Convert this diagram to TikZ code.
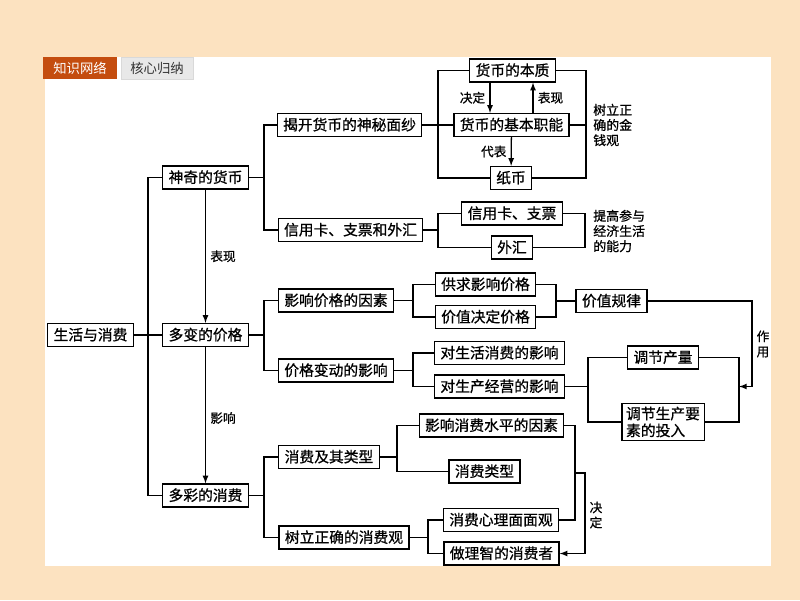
\documentclass[tikz,border=0pt]{standalone}
\usepackage{fontspec}
\newfontfamily\cjk{Noto Sans CJK SC}
\newfontfamily\cjkb{Noto Sans CJK SC}[FakeBold=0.8]
\usetikzlibrary{positioning}
\definecolor{peach}{RGB}{252,226,192}
\definecolor{tabred}{RGB}{196,77,15}
\definecolor{tabgray}{RGB}{232,232,232}

\tikzset{
  box/.style={draw, line width=0.9pt, fill=white, font=\cjkb\fontsize{10.5}{12.5}\selectfont,
    inner xsep=4.2pt, inner ysep=0pt, minimum height=0.575cm, text height=9pt, text depth=1.5pt},
  twoline/.style={draw, line width=0.9pt, fill=white, font=\cjkb\fontsize{10.5}{12}\selectfont,
    align=left, inner xsep=3pt, inner ysep=2.5pt},
  note/.style={font=\cjkb\fontsize{9.2}{10.8}\selectfont, align=left, inner sep=0pt},
  tip/.style={font=\cjkb\fontsize{9}{10.8}\selectfont, inner sep=1pt, align=center},
  link/.style={line width=0.9pt},
  tab/.style={minimum width=1.85cm, minimum height=0.55cm, inner sep=0pt, font=\cjk\fontsize{9.5}{11}\selectfont}
}

\begin{document}
\begin{tikzpicture}[x=0.025cm, y=-0.025cm]
  \fill[peach] (0,0) rectangle (800,600);
  \useasboundingbox (0,0) rectangle (800,600);
  \fill[white] (45,57) rectangle (771,566);

  % tabs
  \node[tab, fill=tabred, text=white] (tabA) at (80,68) {知识网络};
  \node[tab, fill=tabgray, draw=gray!30, minimum width=1.8cm, text=black!80] (tabB) at (157,68) {核心归纳};

  % trunk positions
  \coordinate (t0) at (148,0);
  \coordinate (t1) at (264,0);
  \coordinate (fl) at (438,0);
  \coordinate (fr) at (586,0);
  \coordinate (c1) at (490,0);
  \coordinate (c2) at (533,0);
  \coordinate (t2) at (438,0);
  \coordinate (t3) at (585,0);
  \coordinate (t4) at (413,0);
  \coordinate (t5) at (556,0);
  \coordinate (t6) at (588,0);
  \coordinate (t7) at (739,0);
  \coordinate (t8) at (752,0);
  \coordinate (t9) at (397,0);
  \coordinate (t10) at (428,0);
  \coordinate (t11) at (575,0);
  \coordinate (t12) at (585,0);
  \coordinate (br) at (575,473);

  % main nodes
  \node[box] (life) at (90.5,335) {生活与消费};
  \node[box] (magic) at (205.5,177.5) {神奇的货币};
  \node[box] (price) at (205.5,335) {多变的价格};
  \node[box] (spend) at (205.5,495.5) {多彩的消费};

  % money
  \node[box] (reveal) at (349.5,125) {揭开货币的神秘面纱};
  \node[box] (credit) at (350.5,230) {信用卡、支票和外汇};
  \node[box] (essence) at (512.5,70.5) {货币的本质};
  \node[box] (func) at (511.5,125) {货币的基本职能};
  \node[box] (paper) at (511,178) {纸币};
  \node[box] (card) at (512,213.5) {信用卡、支票};
  \node[box] (forex) at (512,247.5) {外汇};
  \node[note, anchor=west] (moneyview) at (593,125) {树立正\\确的金\\钱观};
  \node[note, anchor=west] (ability) at (593,231) {提高参与\\经济生活\\的能力};

  % price
  \node[box] (factor) at (336,300.5) {影响价格的因素};
  \node[box] (change) at (336,370.5) {价格变动的影响};
  \node[box] (supply) at (485.5,284.5) {供求影响价格};
  \node[box] (valuep) at (485.5,317) {价值决定价格};
  \node[box] (law) at (611.5,301) {价值规律};
  \node[box] (life2) at (499.5,353) {对生活消费的影响};
  \node[box] (prod) at (499.5,386.5) {对生产经营的影响};
  \node[box] (output) at (663,357.5) {调节产量};
  \node[twoline] (input) at (663,422) {调节生产要\\素的投入};
  \node[tip] (effect) at (763,344) {作\\用};

  % consumption
  \node[box] (kind) at (329,457) {消费及其类型};
  \node[box] (view) at (344,537.5) {树立正确的消费观};
  \node[box] (level) at (491.5,425.5) {影响消费水平的因素};
  \node[box] (ctype) at (484.5,471.5) {消费类型};
  \node[box] (psych) at (501,520) {消费心理面面观};
  \node[box] (wise) at (501.5,553.5) {做理智的消费者};
  \node[tip] (decide) at (596,515) {决\\定};

  % left tree
  \draw[link] (magic.west) -- (magic.west -| t0) |- (spend.west);
  \draw[link] (life.east) -- (price.west);
  \draw[link,-latex] (magic) -- node[tip, right=2pt] {表现} (price);
  \draw[link,-latex] (price) -- node[tip, right=2pt, pos=0.52] {影响} (spend);

  % money branch
  \draw[link] (reveal.west) -- (reveal.west -| t1) |- (credit.west);
  \draw[link] (magic.east) -- (magic.east -| t1);
  \draw[link] (essence.west) -- (essence.west -| fl) |- (paper.west);
  \draw[link] (essence.east) -- (essence.east -| fr) |- (paper.east);
  \draw[link] (reveal.east) -- (reveal.east -| func.west);
  \draw[link] (func.east) -- (func.east -| fr);
  \draw[link,-latex] (essence.south -| c1) -- node[tip, left=2pt] {决定} (func.north -| c1);
  \draw[link,-latex] (func.north -| c2) -- node[tip, right=2pt] {表现} (essence.south -| c2);
  \draw[link,-latex] (func) -- node[tip, left=2pt] {代表} (paper);
  \draw[link] (card.west) -- (card.west -| t2) |- (forex.west);
  \draw[link] (credit.east) -- (credit.east -| t2);
  \draw[link] (card.east) -- (card.east -| t3) |- (forex.east);

  % price branch
  \draw[link] (factor.west) -- (factor.west -| t1) |- (change.west);
  \draw[link] (price.east) -- (price.east -| t1);
  \draw[link] (supply.west) -- (supply.west -| t4) |- (valuep.west);
  \draw[link] (factor.east) -- (factor.east -| t4);
  \draw[link] (supply.east) -- (supply.east -| t5) |- (valuep.east);
  \draw[link] (law.west) -- (law.west -| t5);
  \draw[link] (life2.west) -- (life2.west -| t4) |- (prod.west);
  \draw[link] (change.east) -- (change.east -| t4);
  \draw[link] (output.west) -- (output.west -| t6) |- (input.west);
  \draw[link] (prod.east) -- (prod.east -| t6);
  \draw[link] (output.east) -- (output.east -| t7) |- (input.east);
  \draw[link,-latex] (law.east) -- (law.east -| t8) |- (prod.east -| t7);

  % consumption branch
  \draw[link] (kind.west) -- (kind.west -| t1) |- (view.west);
  \draw[link] (spend.east) -- (spend.east -| t1);
  \draw[link] (level.west) -- (level.west -| t9) |- (ctype.west);
  \draw[link] (kind.east) -- (kind.east -| t9);
  \draw[link] (psych.west) -- (psych.west -| t10) |- (wise.west);
  \draw[link] (view.east) -- (view.east -| t10);
  \draw[link] (level.east) -- (level.east -| t11) |- (psych.east);
  \draw[link,-latex] (br) -- (br -| t12) |- (wise.east);
\end{tikzpicture}
\end{document}
